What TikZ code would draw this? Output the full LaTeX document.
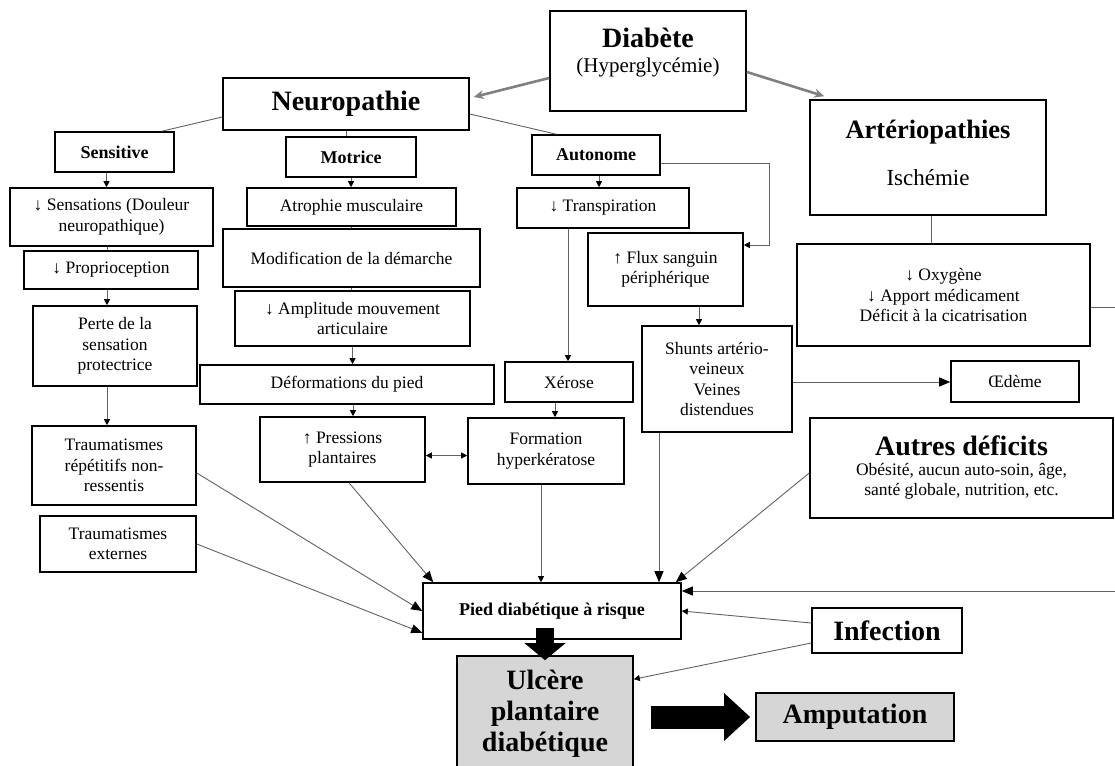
\documentclass[tikz,border=0pt]{standalone}
\usepackage{fontspec}
\setmainfont{Liberation Serif}
\usetikzlibrary{arrows.meta, positioning, calc}

\begin{document}
\begin{tikzpicture}[x=1pt, y=-1pt,
    box/.style={draw, line width=1.6pt, align=center, inner sep=2pt, font=\fontsize{17.5}{20.5}\selectfont},
    dims/.style 2 args={minimum width=#1pt, minimum height=#2pt},
    sub/.style={box, font=\fontsize{18}{21}\selectfont\bfseries},
    big/.style={box, font=\fontsize{28}{31}\selectfont\bfseries},
    shade/.style={fill=black!16},
    link/.style={draw=black!62, line width=0.9pt},
    arrow/.style={link, -{Triangle[length=6pt, width=6pt, color=black]}},
    both/.style={link, {Triangle[length=6pt, width=6pt, color=black]}-{Triangle[length=6pt, width=6pt, color=black]}},
    risk/.style={link, -{Triangle[length=11pt, width=9pt, color=black]}},
    cause/.style={draw=black!50, line width=2.6pt, -{Stealth[length=10pt, width=9pt]}}
]
\useasboundingbox (0,0) rectangle (1115,765);

% Top level
\node[box, dims={196}{100}, font=\fontsize{21}{25}\selectfont] (diabete) at (648,61) {{\fontsize{28}{31}\selectfont\bfseries Diabète}\\(Hyperglycémie)\rule[-22pt]{0pt}{0pt}};
\node[big, dims={246}{52}] (neuro) at (346,104) {Neuropathie};
\node[box, dims={236}{115}, font=\fontsize{23}{27}\selectfont] (arterio) at (928,157.5) {{\fontsize{26.5}{30}\selectfont\bfseries Artériopathies}\\[20pt]Ischémie\rule[-10pt]{0pt}{0pt}};

% Types of neuropathy
\node[sub, dims={119}{40}] (sensitive) at (114.5,152) {Sensitive};
\node[sub, dims={130}{40}] (motrice) at (351,157) {Motrice};
\node[sub, dims={128}{40}] (autonome) at (596,155) {Autonome};

% Sensitive column
\node[box, dims={203}{58}] (sensations) at (111.5,217) {↓ Sensations (Douleur\\neuropathique)};
\node[box, dims={174}{38}] (proprio) at (111,270) {↓ Proprioception};
\node[box, dims={164}{80}] (perte) at (115,346) {Perte de la\\sensation\\protectrice};
\node[box, dims={164}{79}] (traumrep) at (114,465.5) {Traumatismes\\répétitifs non-\\ressentis};
\node[box, dims={156}{56}] (traumext) at (118,544) {Traumatismes\\externes};

% Motor column
\node[box, dims={209}{38}] (atrophie) at (351.5,207) {Atrophie musculaire};
\node[box, dims={257}{58}] (demarche) at (351.5,258) {Modification de la démarche};
\node[box, dims={235}{55}] (amplitude) at (352.5,318.5) {↓ Amplitude mouvement\\articulaire};
\node[box, dims={294}{39}] (deform) at (347,384.5) {Déformations du pied};
\node[box, dims={165}{65}] (pressions) at (342.5,449.5) {↑ Pressions\\plantaires};

% Autonomic column
\node[box, dims={172}{40}] (transp) at (603,208) {↓ Transpiration};
\node[box, dims={155}{73}] (flux) at (665.5,269.5) {↑ Flux sanguin\\périphérique};
\node[box, dims={150}{106}] (shunts) at (717,379) {Shunts artério-\\veineux\\Veines\\distendues};
\node[box, dims={128}{40}] (xerose) at (569,382) {Xérose};
\node[box, dims={156}{66}] (formation) at (546,451) {Formation\\hyperkératose};

% Ischemia side
\node[box, dims={293}{102}] (oxygene) at (943.5,295) {↓ Oxygène\\↓ Apport médicament\\Déficit à la cicatrisation};
\node[box, dims={128}{41}] (oedeme) at (1015,381.5) {Œdème};
\node[box, dims={303}{100}, font=\fontsize{17.5}{20}\selectfont] (autres) at (961.5,468) {{\fontsize{28}{31}\selectfont\bfseries Autres déficits}\\Obésité, aucun auto-soin, âge,\\santé globale, nutrition, etc.};

% Outcome
\node[sub, dims={258}{56}] (pied) at (552,611) {Pied diabétique à risque};
\node[big, dims={150}{45}] (infection) at (887,630.5) {Infection};
\node[big, shade, dims={176}{116}] (ulcere) at (545,714) {Ulcère\\plantaire\\diabétique};
\node[big, shade, dims={198}{48}] (amput) at (855,717) {Amputation};

% From diabetes
\draw[cause] ([yshift=-17pt]diabete.west) -- ([xshift=4pt,yshift=7pt]neuro.east);
\draw[cause] ([yshift=-11pt]diabete.east) -- ([xshift=15pt,yshift=3pt]arterio.north west);

% Neuropathy branches
\draw[link] ([yshift=-13pt]neuro.west) -- ([xshift=-13pt]sensitive.north east);
\draw[link] ([yshift=-10pt]neuro.east) -- ([xshift=25pt]autonome.north west);
\draw[link] (neuro.south) -- (neuro.south |- motrice.north);

% Sensitive chain
\draw[arrow] ([xshift=-8pt]sensitive.south) -- ([xshift=-8pt]sensitive.south |- sensations.north);
\draw[link] ([xshift=-4pt]proprio.north |- sensations.south) -- ([xshift=-4pt]proprio.north);
\draw[arrow] ([xshift=-4pt]proprio.south) -- ([xshift=-4pt]proprio.south |- perte.north);
\draw[arrow] ([xshift=-8pt]perte.south) -- ([xshift=-8pt]perte.south |- traumrep.north);

% Motor chain
\draw[arrow] (motrice.south) -- (motrice.south |- atrophie.north);
\draw[link] (atrophie.south) -- (atrophie.south |- demarche.north);
\draw[link] (demarche.south) -- (demarche.south |- amplitude.north);
\draw[arrow] (amplitude.south) -- (amplitude.south |- deform.north);
\draw[arrow] ([xshift=6pt]deform.south) -- ([xshift=6pt]deform.south |- pressions.north);

% Autonomic chain
\draw[arrow] ([xshift=3pt]autonome.south) -- ([xshift=3pt]autonome.south |- transp.north);
\draw[arrow] ([yshift=-8pt]autonome.east) -- ++(109,0) |- ([yshift=24.5pt]flux.east);
\draw[arrow] ([xshift=-35pt]transp.south) -- ([xshift=-35pt]transp.south |- xerose.north);
\draw[arrow] ([xshift=33.5pt]flux.south) -- ([xshift=33.5pt]flux.south |- shunts.north);
\draw[arrow] ([xshift=-14pt]xerose.south) -- ([xshift=-14pt]xerose.south |- formation.north);
\draw[both] ([yshift=-6pt]pressions.east) -- ([yshift=-6pt]pressions.east -| formation.west);
\draw[risk] ([yshift=-3pt]shunts.east) -- ([yshift=-3pt]shunts.east -| oedeme.west);

% Ischemia
\draw[link] ([xshift=3pt]arterio.south) -- ([xshift=3pt]arterio.south |- oxygene.north);
\coordinate (oxyout) at (1120,307);
\draw[link] (oxyout -| oxygene.east) -- (oxyout);
\coordinate (edgein) at (1120,591);
\draw[risk] (edgein) -- (edgein -| pied.east);

% Into the foot at risk
\draw[risk] ([yshift=-7.5pt]traumrep.east) -- (pied.west);
\draw[risk] (traumext.east) -- ([yshift=7pt]pied.south west);
\draw[risk] ([xshift=6.5pt]pressions.south) -- ([xshift=11pt]pied.north west);
\draw[arrow] ([xshift=-5pt]formation.south) -- ([xshift=-5pt]formation.south |- pied.north);
\draw[risk] ([xshift=-58pt]shunts.south) -- ([xshift=-58pt]shunts.south |- pied.north);
\draw[risk] ([yshift=-5pt]autres.west) -- ([xshift=-6pt]pied.north east);
\draw[arrow] ([yshift=7.5pt]infection.west) -- (pied.east);
\draw[arrow] ([yshift=-12.5pt]infection.west) -- ([yshift=-24pt]ulcere.north east);

% Block arrows
\draw[line width=18pt, -{Triangle[length=17pt, width=40pt]}] ([yshift=12pt]pied.south -| ulcere.north) -- ([yshift=-5pt]ulcere.north);
\draw[line width=23pt, -{Triangle[length=26pt, width=46pt]}] ([xshift=17pt]ulcere.east |- amput.west) -- ([xshift=-5pt]amput.west);

\end{tikzpicture}
\end{document}
